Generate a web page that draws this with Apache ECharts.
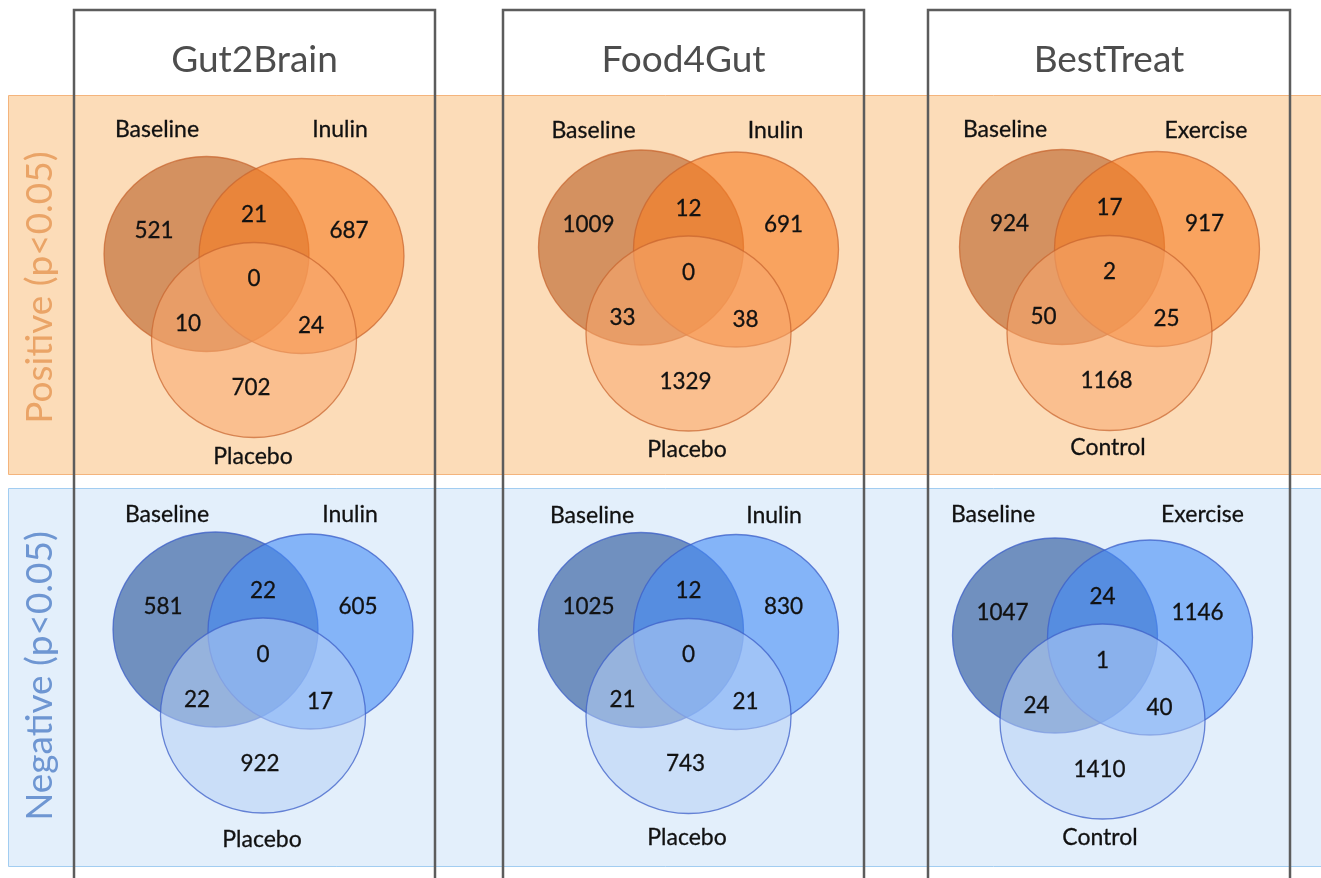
<!DOCTYPE html>
<html>
<head>
<meta charset="utf-8">
<title>Venn diagrams of significant associations per study</title>
<script src="https://cdn.jsdelivr.net/npm/echarts@6/dist/echarts.min.js"></script>
<style>
  html, body { margin: 0; padding: 0; background: #ffffff; }
  #chart { width: 1321px; height: 878px; }
</style>
</head>
<body>
<div id="chart"></div>
<script>
// ---- data ----
const studies = ['Gut2Brain', 'Food4Gut', 'BestTreat'];
const directions = ['Positive (p<0.05)', 'Negative (p<0.05)'];
const setNames = [
  ['Baseline', 'Inulin', 'Placebo'],
  ['Baseline', 'Inulin', 'Placebo'],
  ['Baseline', 'Exercise', 'Control']
];
// region order: A only, A∩B, B only, A∩B∩C, A∩C, B∩C, C only
const positiveCounts = [
  [521, 21, 687, 0, 10, 24, 702],
  [1009, 12, 691, 0, 33, 38, 1329],
  [924, 17, 917, 2, 50, 25, 1168]
];
const negativeCounts = [
  [581, 22, 605, 0, 22, 17, 922],
  [1025, 12, 830, 0, 21, 21, 743],
  [1047, 24, 1146, 1, 24, 40, 1410]
];
const countsByDirection = [positiveCounts, negativeCounts];

// ---- layout (pixel units inside each panel's local axes) ----
const HALF = 200;                 // half extent of each panel's axes
const RX = 102.5, RY = 97.5;      // set ellipse radii
const SET_OFFSETS = [[-47.5, -29], [47.5, -27], [0, 57]];
const REGION_OFFSETS = [[-100, -52], [0, -68], [95, -52], [0, -4], [-66, 41], [57, 43], [-3, 105]];
const PANEL_LAYOUT = [
  [ // positive row
    { cx: 254, cy: 283, lab: [[-97, -153], [86, -153], [-1, 174]] },
    { cx: 688.5, cy: 276.5, lab: [[-95, -146], [87, -146], [-1.5, 173.5]] },
    { cx: 1109.5, cy: 276, lab: [[-104.5, -146], [96.5, -145], [-1.5, 172]] }
  ],
  [ // negative row
    { cx: 263, cy: 658.5, lab: [[-96, -143.5], [87, -143.5], [-1, 181.5]] },
    { cx: 688.5, cy: 659, lab: [[-96.5, -143], [85.5, -143], [-1.5, 179]] },
    { cx: 1102.5, cy: 664.5, lab: [[-109.5, -149.5], [100, -149.5], [-2.5, 173.5]] }
  ]
];
const COLUMN_BOXES = [[74, 435], [503, 864], [928, 1290]];
const BANDS = [
  { top: 95, bottom: 474, fill: '#fcdcb8', stroke: '#f4b47c', text: '#eaa467' },
  { top: 488, bottom: 866, fill: '#e3effb', stroke: '#a2cdf1', text: '#6e96d2' }
];
const SET_STYLE = [
  { fills: ['rgba(185,95,37,0.6)', 'rgba(247,125,35,0.6)', 'rgba(247,168,110,0.55)'], stroke: 'rgba(200,100,45,0.7)' },
  { fills: ['rgba(35,80,152,0.6)', 'rgba(68,140,246,0.6)', 'rgba(182,207,246,0.55)'], stroke: 'rgba(60,95,200,0.75)' }
];
const FONT = 'Lato, "Open Sans", "DejaVu Sans", sans-serif';

// ---- build options ----
const grids = [], xAxes = [], yAxes = [], series = [];
let gi = 0;
for (let r = 0; r < 2; r++) {
  for (let c = 0; c < 3; c++) {
    const L = PANEL_LAYOUT[r][c];
    grids.push({ left: L.cx - HALF, top: L.cy - HALF, width: 2 * HALF, height: 2 * HALF, show: false });
    xAxes.push({ type: 'value', gridIndex: gi, min: -HALF, max: HALF, show: false });
    yAxes.push({ type: 'value', gridIndex: gi, min: -HALF, max: HALF, inverse: true, show: false });

    const style = SET_STYLE[r];
    // the three sets as overlapping ellipses
    series.push({
      type: 'custom',
      xAxisIndex: gi, yAxisIndex: gi,
      silent: true, clip: false,
      data: setNames[c].map((name, i) => [SET_OFFSETS[i][0], SET_OFFSETS[i][1], i]),
      renderItem: function (params, api) {
        const p = api.coord([api.value(0), api.value(1)]);
        const s = api.size([RX, RY]);
        const i = api.value(2);
        return {
          type: 'ellipse',
          shape: { cx: p[0], cy: p[1], rx: Math.abs(s[0]), ry: Math.abs(s[1]) },
          style: { fill: style.fills[i], stroke: style.stroke, lineWidth: 1.3 }
        };
      },
      z: 2
    });
    // set names
    series.push({
      type: 'custom',
      xAxisIndex: gi, yAxisIndex: gi,
      silent: true, clip: false,
      data: setNames[c].map((name, i) => [L.lab[i][0], L.lab[i][1], name]),
      renderItem: function (params, api) {
        const p = api.coord([api.value(0), api.value(1)]);
        return {
          type: 'text', x: p[0], y: p[1],
          style: {
            text: api.value(2), font: '23px ' + FONT, fill: '#111', align: 'center', verticalAlign: 'middle',
            stroke: '#111', lineWidth: 0.3
          }
        };
      },
      z: 4
    });
    // region counts
    const counts = countsByDirection[r][c];
    series.push({
      type: 'custom',
      xAxisIndex: gi, yAxisIndex: gi,
      silent: true, clip: false,
      data: counts.map((v, k) => [REGION_OFFSETS[k][0], REGION_OFFSETS[k][1], v]),
      renderItem: function (params, api) {
        const p = api.coord([api.value(0), api.value(1)]);
        return {
          type: 'text', x: p[0], y: p[1],
          style: {
            text: String(api.value(2)), font: '22.5px ' + FONT, fill: '#111', align: 'center', verticalAlign: 'middle',
            stroke: '#111', lineWidth: 0.3
          }
        };
      },
      z: 4
    });
    gi++;
  }
}

// bands, study frames and headings
const graphics = [];
BANDS.forEach((b, r) => {
  graphics.push({
    type: 'rect', z: 0,
    shape: { x: 8.5, y: b.top + 0.5, width: 1330, height: b.bottom - b.top },
    style: { fill: b.fill, stroke: b.stroke, lineWidth: 1 }
  });
  graphics.push({
    type: 'text', z: 5,
    x: 40, y: (b.top + b.bottom) / 2 + (r === 0 ? 3 : -1), rotation: Math.PI / 2,
    style: { text: directions[r], font: '37px ' + FONT, fill: b.text, align: 'center', verticalAlign: 'middle' }
  });
});
COLUMN_BOXES.forEach((bx, c) => {
  graphics.push({
    type: 'rect', z: 10,
    shape: { x: bx[0], y: 10, width: bx[1] - bx[0], height: 900 },
    style: { fill: 'none', stroke: '#5c5c5c', lineWidth: 2.5 }
  });
  graphics.push({
    type: 'text', z: 10,
    x: (bx[0] + bx[1]) / 2, y: 60,
    style: { text: studies[c], font: '37px ' + FONT, fill: '#4d4d4d', align: 'center', verticalAlign: 'middle' }
  });
});

const chart = echarts.init(document.getElementById('chart'), null, { renderer: 'canvas' });
chart.setOption({
  animation: false,
  backgroundColor: '#ffffff',
  grid: grids,
  xAxis: xAxes,
  yAxis: yAxes,
  graphic: { elements: graphics },
  series: series
});
</script>
</body>
</html>
